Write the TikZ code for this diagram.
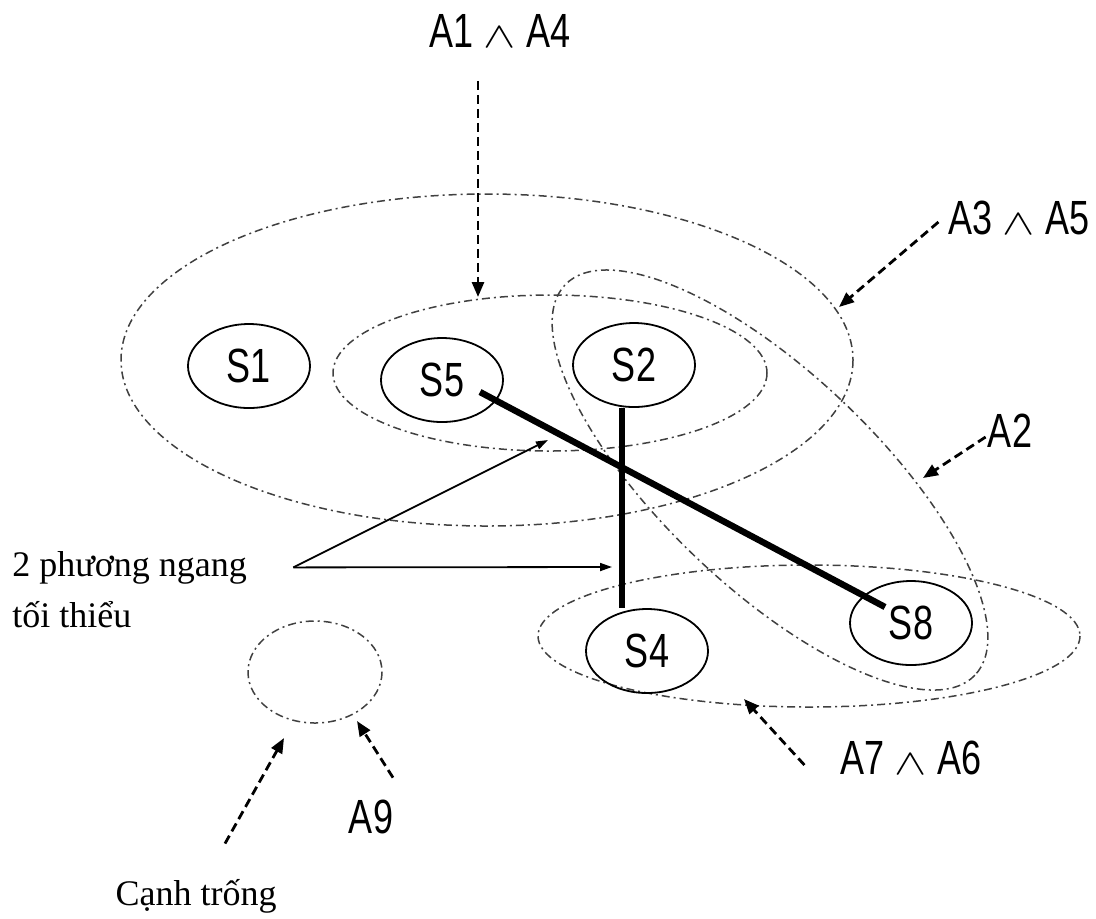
\documentclass[tikz,border=0pt]{standalone}
\usepackage{graphicx}
\usepackage{fontspec}
\setmainfont{Liberation Serif}
\setsansfont[FakeStretch=0.75]{Liberation Sans}
\usetikzlibrary{positioning, arrows.meta, shapes.geometric}

\newcommand{\band}{\scalebox{1.4}[1.05]{$\scriptstyle\wedge$}}

\begin{document}
\begin{tikzpicture}[
    x=0.5pt, y=-0.5pt,
    state/.style={ellipse, draw, line width=0.9pt, minimum width=61pt, minimum height=42pt, inner sep=0pt, font=\sffamily\fontsize{24}{28}\selectfont},
    group/.style={draw=black!75, line width=0.75pt, dash pattern=on 4pt off 2pt on 1pt off 2pt},
    tag/.style={font=\sffamily\fontsize{24}{28}\selectfont, inner sep=3pt},
    note/.style={font=\fontsize{18}{22}\selectfont, inner sep=0pt},
    hint/.style={-{Triangle[length=7.5pt, width=6pt]}, line width=1.4pt, dash pattern=on 4.5pt off 2.5pt},
    pointer/.style={-{Triangle[length=6pt, width=4pt]}, line width=0.9pt},
    bar/.style={line width=3.2pt}
]
\useasboundingbox (0,0) rectangle (1096,918);

\draw[group] (487,360) ellipse [x radius=366, y radius=166];
\draw[group] (550,373) ellipse [x radius=217, y radius=78];
\draw[group, rotate around={-43.6:(770,480)}] (770,480) ellipse [x radius=283, y radius=107];
\draw[group] (809,636) ellipse [x radius=271, y radius=71];
\draw[group] (315,672) ellipse [x radius=67, y radius=51];

\coordinate (g14) at (478,297);
\coordinate (g35) at (839,307);
\coordinate (g2) at (923,478);
\coordinate (g76) at (744,699);
\coordinate (g9a) at (357,721);
\coordinate (g9b) at (284,738);

\node[state] (s1) at (249,366) {S1};
\node[state] (s5) at (442,380) {S5};
\node[state] (s2) at (634,365) {S2};
\node[state] (s4) at (647,651) {S4};
\node[state] (s8) at (911,623) {S8};

\draw[bar] ([shift={(38,12)}]s5.center) -- ([shift={(-26,-16)}]s8.center);
\draw[bar] ([xshift=-6pt]s2.south) -- ([xshift=-6pt]s2.south |- s4.north);

\node[tag] (l14) at (500,31) {A1 \band{} A4};
\node[tag] (l35) at (1019,218) {A3 \band{} A5};
\node[tag] (l2) at (1010,431) {A2};
\node[tag] (l76) at (911,758) {A7 \band{} A6};
\node[tag] (l9) at (371,817) {A9};
\node[note, anchor=base] (lc) at (196,905) {Cạnh trống};

\draw[hint] ([xshift=-11pt, yshift=-13.5pt]l14.south) -- (g14);
\draw[hint] ([xshift=-2pt, yshift=-2pt]l35.west) -- (g35);
\draw[hint] ([xshift=2pt, yshift=-3pt]l2.west) -- (g2);
\draw[hint] ([xshift=-15pt, yshift=-3.5pt]l76.west) -- (g76);
\draw[hint] ([xshift=11pt, yshift=8pt]l9.north) -- (g9a);
\draw[hint] ([xshift=14.5pt, yshift=17.5pt]lc.north) -- (g9b);

\node[note, anchor=base west] (ln1) at (12,576) {2 phương ngang};
\node[note, anchor=base west] (ln2) at (12,627) {tối thiểu};
\coordinate[right=23pt of ln1.east] (fork);
\coordinate (cross1) at (548,440);
\coordinate (cross2) at (612,567);

\draw[pointer] (fork) -- (cross1);
\draw[pointer] (fork) -- (cross2);

\end{tikzpicture}
\end{document}
